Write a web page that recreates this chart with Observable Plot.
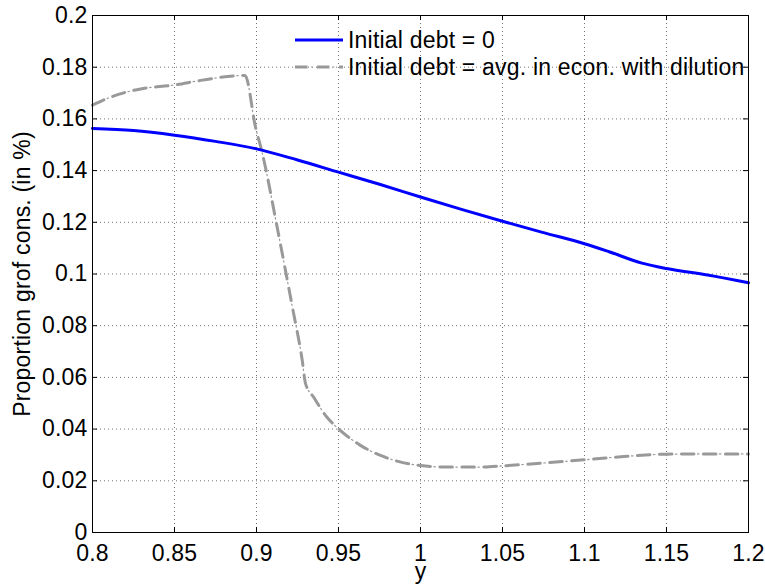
<!DOCTYPE html>
<html>
<head>
<meta charset="utf-8">
<script src="https://cdn.jsdelivr.net/npm/d3@7"></script>
<script src="https://cdn.jsdelivr.net/npm/@observablehq/plot@0.6"></script>
<style>
  html, body { margin: 0; padding: 0; background: #fff; }
  #wrap { position: relative; width: 765px; height: 585px; font-family: "Liberation Sans", Arial, sans-serif; }
  #legend { position: absolute; left: 0; top: 0; font-size: 23px; letter-spacing: 0.2px; color: #000; }
  .row { position: absolute; white-space: nowrap; display: flex; align-items: center; height: 26px; }
  .row svg { display: block; }
  .row span { margin-left: 4px; }
</style>
</head>
<body>
<div id="wrap"><div id="legend"></div></div>
<script>
// ---- data ----
const seriesNames = ["Initial debt = 0", "Initial debt = avg. in econ. with dilution"];

const blueX = [0.8, 0.825, 0.85, 0.875, 0.9, 0.925, 0.95, 0.975, 1.0, 1.025, 1.05, 1.075, 1.1, 1.115, 1.135, 1.15, 1.175, 1.2];
const blueY = [0.1563, 0.1555, 0.1537, 0.1513, 0.1484, 0.1441, 0.1394, 0.1347, 0.1298, 0.1250, 0.1204, 0.1160, 0.1117, 0.1086, 0.1042, 0.1021, 0.0996, 0.0966];

const grayX = [0.8, 0.811, 0.8293, 0.85, 0.866, 0.893, 0.8994, 0.9034, 0.9126, 0.9217, 0.9279, 0.9299, 0.9349, 0.943, 0.95, 0.9634, 0.9756, 0.9858, 1.0, 1.0163, 1.0366, 1.0508, 1.0732, 1.0996, 1.124, 1.15, 1.175, 1.2];
const grayY = [0.1653, 0.1684, 0.1716, 0.1731, 0.1749, 0.1768, 0.1568, 0.1471, 0.1181, 0.0878, 0.0665, 0.0576, 0.0523, 0.0446, 0.0401, 0.0337, 0.0298, 0.0276, 0.0259, 0.0253, 0.0253, 0.0258, 0.0268, 0.0281, 0.0294, 0.0303, 0.0304, 0.0304];

const xTicks = [0.8, 0.85, 0.9, 0.95, 1.0, 1.05, 1.1, 1.15, 1.2];
const xTickLabels = ["0.8", "0.85", "0.9", "0.95", "1", "1.05", "1.1", "1.15", "1.2"];
const yTicks = [0, 0.02, 0.04, 0.06, 0.08, 0.1, 0.12, 0.14, 0.16, 0.18, 0.2];
const yTickLabels = ["0", "0.02", "0.04", "0.06", "0.08", "0.1", "0.12", "0.14", "0.16", "0.18", "0.2"];

const xLabel = "y";
const yLabel = "Proportion grof cons. (in %)";

// ---- build tables ----
const blue = blueX.map((x, i) => ({x, y: blueY[i]}));
const gray = grayX.map((x, i) => ({x, y: grayY[i]}));

const W = 765, H = 585;
const mL = 92, mR = 17, mT = 15, mB = 53;
const innerW = W - mL - mR, innerH = H - mT - mB;
const tickLen = 5;
const FONT = 23;

const blueStyle = {stroke: "#0000ff", strokeWidth: 3};
const grayDash = {stroke: "#999999", strokeWidth: 3, strokeDasharray: "12.5,9.5"};
const grayDot = {stroke: "#999999", strokeWidth: 1.2, strokeDasharray: "1.5,20.5", strokeDashoffset: -16};

const chart = Plot.plot({
  width: W, height: H,
  marginLeft: mL, marginRight: mR, marginTop: mT, marginBottom: mB,
  style: {fontFamily: "Liberation Sans, Arial, sans-serif", fontSize: FONT + "px", letterSpacing: "0.2px", background: "transparent", overflow: "visible"},
  x: {domain: [0.8, 1.2], label: null},
  y: {domain: [0, 0.2], label: null},
  marks: [
    Plot.gridX(xTicks, {stroke: "#000", strokeOpacity: 0.55, strokeDasharray: "1,3"}),
    Plot.gridY(yTicks, {stroke: "#000", strokeOpacity: 0.55, strokeDasharray: "1,3"}),
    Plot.line(gray, {x: "x", y: "y", curve: "monotone-x", ...grayDash}),
    Plot.line(gray, {x: "x", y: "y", curve: "monotone-x", ...grayDot}),
    Plot.line(blue, {x: "x", y: "y", curve: "monotone-x", ...blueStyle}),
    // inward ticks on all four sides
    Plot.tickX(xTicks, {x: d => d, insetTop: innerH - tickLen, stroke: "#000"}),
    Plot.tickX(xTicks, {x: d => d, insetBottom: innerH - tickLen, stroke: "#000"}),
    Plot.tickY(yTicks, {y: d => d, insetRight: innerW - tickLen, stroke: "#000"}),
    Plot.tickY(yTicks, {y: d => d, insetLeft: innerW - tickLen, stroke: "#000"}),
    Plot.frame({stroke: "#000", strokeWidth: 1}),
    Plot.axisX({ticks: xTicks, tickSize: 0, tickPadding: 12, fontSize: FONT,
      tickFormat: d => xTickLabels[xTicks.indexOf(d)], label: null}),
    Plot.axisY({ticks: yTicks, tickSize: 0, tickPadding: 5, fontSize: FONT,
      tickFormat: d => yTickLabels[yTicks.indexOf(d)], label: null}),
    Plot.text([xLabel], {text: d => d, frameAnchor: "bottom", dy: 46, lineAnchor: "bottom", fontSize: FONT, fill: "#000"}),
    Plot.text([yLabel], {text: d => d, frameAnchor: "left", textAnchor: "middle", dx: -70, rotate: -90, fontSize: FONT, fill: "#000"})
  ]
});
document.getElementById("wrap").prepend(chart);

// ---- legend (no box, overlaid at top of the plot) ----
const legend = document.getElementById("legend");
const rows = [
  {name: seriesNames[0], styles: [blueStyle], top: 27},
  {name: seriesNames[1], styles: [grayDash, grayDot], top: 54}
];
for (const r of rows) {
  const row = document.createElement("div");
  row.className = "row";
  row.style.left = "294px";
  row.style.top = r.top + "px";
  const s = d3.create("svg").attr("width", 50).attr("height", 26);
  for (const st of r.styles) {
    s.append("line").attr("x1", 1).attr("x2", 49).attr("y1", 13).attr("y2", 13)
      .attr("stroke", st.stroke).attr("stroke-width", st.strokeWidth)
      .attr("stroke-dasharray", st.strokeDasharray || null)
      .attr("stroke-dashoffset", st.strokeDashoffset || null);
  }
  row.appendChild(s.node());
  const t = document.createElement("span");
  t.textContent = r.name;
  row.appendChild(t);
  legend.appendChild(row);
}
</script>
</body>
</html>
